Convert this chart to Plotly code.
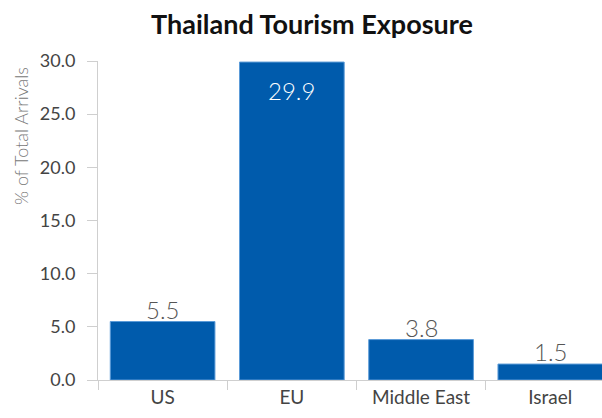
import plotly.graph_objects as go

# Share of total arrivals by source market
regions = ["US", "EU", "Middle East", "Israel"]
share_pct = [5.5, 29.9, 3.8, 1.5]
y_ticks = [0, 5, 10, 15, 20, 25, 30]

bar_color = "#005bac"
edge_color = "#5b9bd8"
axis_grey = "#cfcfcf"

fig = go.Figure(
    go.Bar(
        x=regions,
        y=share_pct,
        marker=dict(color=bar_color, line=dict(color=edge_color, width=1)),
        cliponaxis=False,
        hoverinfo="x+y",
    )
)

# value labels: white inside the tall bar, grey just above the short ones
value_labels = []
for name, v in zip(regions, share_pct):
    inside = v > 20
    value_labels.append(
        dict(
            x=name,
            y=v,
            xref="x",
            yref="y",
            text=f"{v:.1f}",
            showarrow=False,
            xanchor="center",
            yanchor="middle" if inside else "bottom",
            yshift=-28 if inside else -4,
            font=dict(
                family="Lato",
                size=24,
                color="white" if inside else "#555555",
                weight=300,
            ),
        )
    )

fig.update_layout(
    width=602,
    height=418,
    margin=dict(l=98, r=0, t=61, b=38),
    paper_bgcolor="white",
    plot_bgcolor="white",
    bargap=0.19,
    showlegend=False,
    font=dict(family="Lato", color="#333333"),
    title=dict(
        text="<b>Thailand Tourism Exposure</b>",
        x=312 / 602,
        xanchor="center",
        xref="container",
        y=1 - 25 / 418,
        yanchor="middle",
        font=dict(family="Lato", size=27, color="#111111"),
    ),
    xaxis=dict(
        range=[-0.5, 3.4],
        showline=True,
        linecolor=axis_grey,
        linewidth=1,
        ticks="outside",
        tickson="boundaries",
        ticklen=9,
        tickcolor=axis_grey,
        tickfont=dict(family="Lato", size=19, color="#444444", weight=400),
        showgrid=False,
        zeroline=False,
        fixedrange=True,
    ),
    yaxis=dict(
        range=[0, 30],
        tickvals=y_ticks,
        ticktext=[f"{t:.1f}" for t in y_ticks],
        showline=True,
        linecolor=axis_grey,
        linewidth=1,
        ticks="outside",
        ticklen=10,
        tickcolor=axis_grey,
        ticklabelstandoff=8,
        tickfont=dict(family="Lato", size=18, color="#444444", weight=400),
        showgrid=False,
        zeroline=False,
        fixedrange=True,
    ),
    annotations=value_labels
    + [
        dict(
            text="% of Total Arrivals",
            xref="paper",
            yref="paper",
            x=-77 / 504,
            y=1 - (136 - 61) / 319,
            xanchor="center",
            yanchor="middle",
            textangle=-90,
            showarrow=False,
            font=dict(family="Lato", size=18, color="#777777", weight=300),
        )
    ],
)

fig.write_html("out.html")
